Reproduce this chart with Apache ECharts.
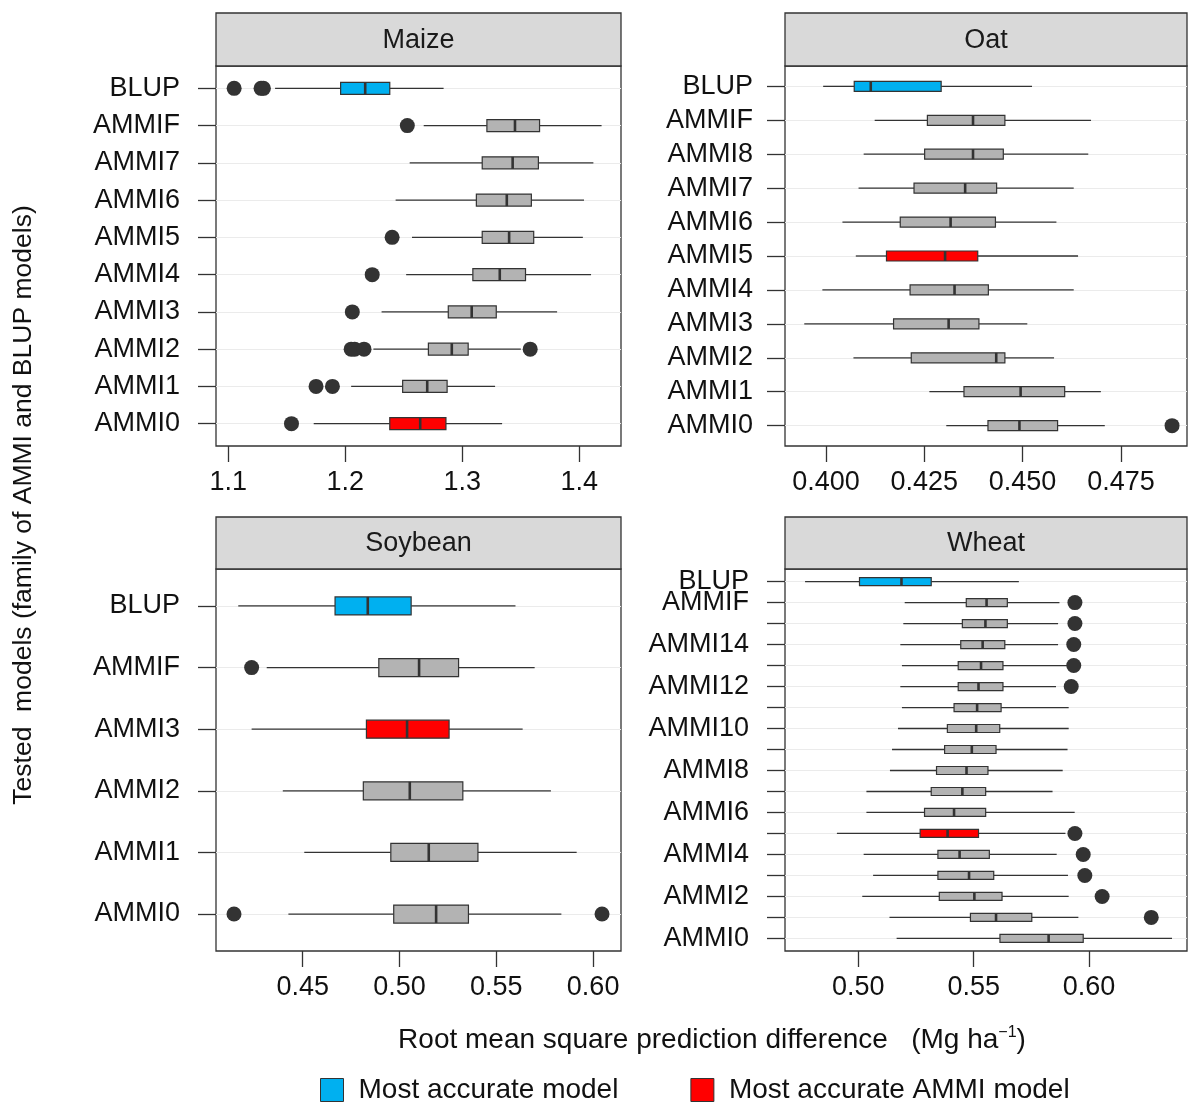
<!DOCTYPE html>
<html>
<head>
<meta charset="utf-8">
<script src="https://cdn.jsdelivr.net/npm/echarts@6/dist/echarts.min.js"></script>
<style>
  html, body { margin: 0; padding: 0; background: #fff; }
  #chart { width: 1190px; height: 1102px; }
</style>
</head>
<body>
<div id="chart"></div>
<script>
// ---------------- DATA ----------------
// Maize
const maizeModels = ['BLUP','AMMIF','AMMI7','AMMI6','AMMI5','AMMI4','AMMI3','AMMI2','AMMI1','AMMI0'];
const maizeTickLabelsY = maizeModels;
const maizeLow  = [1.140, 1.267, 1.255, 1.243, 1.257, 1.252, 1.231, 1.224, 1.205, 1.173];
const maizeQ1   = [1.196, 1.321, 1.317, 1.312, 1.317, 1.309, 1.288, 1.271, 1.249, 1.238];
const maizeMed  = [1.217, 1.345, 1.343, 1.338, 1.340, 1.332, 1.308, 1.291, 1.270, 1.264];
const maizeQ3   = [1.238, 1.366, 1.365, 1.359, 1.361, 1.354, 1.329, 1.305, 1.287, 1.286];
const maizeHigh = [1.284, 1.419, 1.412, 1.404, 1.403, 1.410, 1.381, 1.350, 1.328, 1.334];
const maizeOutliers = [[1.105,1.128,1.130],[1.253],[],[],[1.240],[1.223],[1.206],[1.205,1.208,1.216,1.358],[1.175,1.189],[1.154]];
const maizeRole = ['best','','','','','','','','','ammi'];
const maizeTicks = [1.1, 1.2, 1.3, 1.4];
const maizeTickLabels = ['1.1','1.2','1.3','1.4'];

// Oat
const oatModels = ['BLUP','AMMIF','AMMI8','AMMI7','AMMI6','AMMI5','AMMI4','AMMI3','AMMI2','AMMI1','AMMI0'];
const oatTickLabelsY = oatModels;
const oatLow  = [0.3993, 0.4124, 0.4096, 0.4083, 0.4042, 0.4076, 0.3991, 0.3945, 0.4070, 0.4263, 0.4306];
const oatQ1   = [0.4072, 0.4258, 0.4251, 0.4224, 0.4189, 0.4154, 0.4214, 0.4172, 0.4217, 0.4351, 0.4412];
const oatMed  = [0.4114, 0.4374, 0.4374, 0.4354, 0.4317, 0.4303, 0.4327, 0.4312, 0.4433, 0.4495, 0.4492];
const oatQ3   = [0.4293, 0.4455, 0.4451, 0.4434, 0.4431, 0.4386, 0.4413, 0.4389, 0.4455, 0.4607, 0.4589];
const oatHigh = [0.4524, 0.4674, 0.4667, 0.4630, 0.4586, 0.4641, 0.4630, 0.4512, 0.4580, 0.4699, 0.4709];
const oatOutliers = [[],[],[],[],[],[],[],[],[],[],[0.4880]];
const oatRole = ['best','','','','','ammi','','','','',''];
const oatTicks = [0.400, 0.425, 0.450, 0.475];
const oatTickLabels = ['0.400','0.425','0.450','0.475'];

// Soybean
const soyModels = ['BLUP','AMMIF','AMMI3','AMMI2','AMMI1','AMMI0'];
const soyTickLabelsY = soyModels;
const soyLow  = [0.4167, 0.4314, 0.4236, 0.4397, 0.4508, 0.4426];
const soyQ1   = [0.4667, 0.4893, 0.4829, 0.4813, 0.4955, 0.4970];
const soyMed  = [0.4836, 0.5101, 0.5039, 0.5053, 0.5151, 0.5189];
const soyQ3   = [0.5060, 0.5305, 0.5256, 0.5327, 0.5405, 0.5356];
const soyHigh = [0.5599, 0.5698, 0.5636, 0.5782, 0.5915, 0.5836];
const soyOutliers = [[],[0.4236],[],[],[],[0.4145,0.6046]];
const soyRole = ['best','','ammi','','',''];
const soyTicks = [0.45, 0.50, 0.55, 0.60];
const soyTickLabels = ['0.45','0.50','0.55','0.60'];

// Wheat
const wheatModels = ['BLUP','AMMIF','AMMI15','AMMI14','AMMI13','AMMI12','AMMI11','AMMI10','AMMI9','AMMI8','AMMI7','AMMI6','AMMI5','AMMI4','AMMI3','AMMI2','AMMI1','AMMI0'];
const wheatTickLabelsY = ['BLUP','AMMIF','','AMMI14','','AMMI12','','AMMI10','','AMMI8','','AMMI6','','AMMI4','','AMMI2','','AMMI0'];
const wheatLow  = [0.4769, 0.5201, 0.5195, 0.5182, 0.5189, 0.5182, 0.5189, 0.5172, 0.5146, 0.5137, 0.5035, 0.5035, 0.4907, 0.5023, 0.5064, 0.5017, 0.5135, 0.5166];
const wheatQ1   = [0.5005, 0.5468, 0.5451, 0.5444, 0.5433, 0.5433, 0.5415, 0.5386, 0.5374, 0.5339, 0.5316, 0.5287, 0.5268, 0.5345, 0.5345, 0.5351, 0.5486, 0.5614];
const wheatMed  = [0.5187, 0.5556, 0.5551, 0.5539, 0.5532, 0.5521, 0.5515, 0.5511, 0.5492, 0.5469, 0.5451, 0.5415, 0.5387, 0.5439, 0.5480, 0.5503, 0.5597, 0.5825];
const wheatQ3   = [0.5316, 0.5646, 0.5646, 0.5635, 0.5627, 0.5627, 0.5619, 0.5613, 0.5597, 0.5562, 0.5552, 0.5552, 0.5521, 0.5568, 0.5587, 0.5623, 0.5752, 0.5975];
const wheatHigh = [0.5696, 0.5872, 0.5866, 0.5866, 0.5916, 0.5857, 0.5912, 0.5912, 0.5907, 0.5886, 0.5842, 0.5938, 0.5898, 0.5860, 0.5909, 0.5912, 0.5954, 0.6360];
const wheatOutliers = [[],[0.5939],[0.5939],[0.5934],[0.5934],[0.5923],[],[],[],[],[],[],[0.5939],[0.5975],[0.5982],[0.6057],[0.6270],[]];
const wheatRole = ['best','','','','','','','','','','','','ammi','','','','',''];
const wheatTicks = [0.50, 0.55, 0.60];
const wheatTickLabels = ['0.50','0.55','0.60'];

const legendNames = ['Most accurate model', 'Most accurate AMMI model'];
const xTitle = 'Root mean square prediction difference';
const xUnit = 'Mg ha';
const xUnitExp = '\u22121';
const yTitle = 'Tested  models (family of AMMI and BLUP models)';

// ---------------- STYLE / LAYOUT ----------------
const FONT = '"Liberation Sans", Arial, Helvetica, sans-serif';
const FS = 27;
const TXT = '#111111';
const DARK = '#333333';
const roleColor = { best: '#00b0f0', ammi: '#ff0000', '': '#b3b3b3' };

const panels = [
  { title: 'Maize', models: maizeModels, yLabels: maizeTickLabelsY, low: maizeLow, q1: maizeQ1, med: maizeMed, q3: maizeQ3, high: maizeHigh,
    out: maizeOutliers, role: maizeRole, ticks: maizeTicks, tickLabels: maizeTickLabels,
    left: 216, width: 405, top: 66, bottom: 446, stripTop: 13, boxH: 12, labelMargin: 36, xmin: 1.0895, xmax: 1.4356 },
  { title: 'Oat', models: oatModels, yLabels: oatTickLabelsY, low: oatLow, q1: oatQ1, med: oatMed, q3: oatQ3, high: oatHigh,
    out: oatOutliers, role: oatRole, ticks: oatTicks, tickLabels: oatTickLabels,
    left: 785, width: 402, top: 66, bottom: 446, stripTop: 13, boxH: 10, labelMargin: 32, xmin: 0.3896, xmax: 0.4918 },
  { title: 'Soybean', models: soyModels, yLabels: soyTickLabelsY, low: soyLow, q1: soyQ1, med: soyMed, q3: soyQ3, high: soyHigh,
    out: soyOutliers, role: soyRole, ticks: soyTicks, tickLabels: soyTickLabels,
    left: 216, width: 405, top: 569, bottom: 951, stripTop: 517, boxH: 18, labelMargin: 36, xmin: 0.4052, xmax: 0.6144 },
  { title: 'Wheat', models: wheatModels, yLabels: wheatTickLabelsY, low: wheatLow, q1: wheatQ1, med: wheatMed, q3: wheatQ3, high: wheatHigh,
    out: wheatOutliers, role: wheatRole, ticks: wheatTicks, tickLabels: wheatTickLabels,
    left: 785, width: 402, top: 569, bottom: 951, stripTop: 517, boxH: 8, labelMargin: 36, xmin: 0.4682, xmax: 0.6425 }
];

const grid = [], xAxis = [], yAxis = [], series = [], graphics = [];

panels.forEach((p, i) => {
  const n = p.models.length;
  const h = p.bottom - p.top;
  const unit = h / (n + 0.2);           // ggplot discrete expansion of 0.6 on both sides
  const rowTop = p.top + 0.6 * unit;
  const rowSpan = (n - 1) * unit;
  const fi = 2 * i, di = 2 * i + 1;

  grid.push({ left: p.left, top: p.top, width: p.width, height: h, show: true,
              borderColor: DARK, borderWidth: 1.3, backgroundColor: 'transparent' });
  grid.push({ left: p.left, top: rowTop, width: p.width, height: rowSpan });

  xAxis.push({
    gridIndex: fi, type: 'value', min: p.xmin, max: p.xmax,
    axisLine: { show: false },
    axisTick: { show: true, length: 16, customValues: p.ticks, lineStyle: { color: DARK, width: 1.3 } },
    axisLabel: { show: true, customValues: p.ticks, margin: 23, fontSize: FS, fontFamily: FONT, color: TXT,
      formatter: (v) => {
        let best = 0, bd = Infinity;
        p.ticks.forEach((t, k) => { const d = Math.abs(t - v); if (d < bd) { bd = d; best = k; } });
        return p.tickLabels[best];
      } },
    splitLine: { show: false }
  });
  xAxis.push({ gridIndex: di, type: 'value', min: p.xmin, max: p.xmax, show: false, splitLine: { show: false } });

  yAxis.push({ gridIndex: fi, type: 'value', show: false, splitLine: { show: false } });
  yAxis.push({
    gridIndex: di, type: 'category', data: p.models, inverse: true, boundaryGap: false,
    axisLine: { show: false },
    axisTick: { show: true, length: 18, lineStyle: { color: DARK, width: 1.3 } },
    axisLabel: { interval: 0, margin: p.labelMargin, fontSize: FS, fontFamily: FONT, color: TXT,
      formatter: (v, idx) => p.yLabels[idx] },
    splitLine: { show: true, lineStyle: { color: '#ebebeb', width: 1.2 } }
  });

  series.push({
    type: 'custom', xAxisIndex: di, yAxisIndex: di, z: 3,
    encode: { x: [1, 2, 3, 4, 5], y: 0 },
    data: p.models.map((m, k) => [k, p.low[k], p.q1[k], p.med[k], p.q3[k], p.high[k]]),
    renderItem: (params, api) => {
      const k = api.value(0);
      const c = (dim) => api.coord([api.value(dim), k]);
      const y = c(1)[1];
      const xl = c(1)[0], x1 = c(2)[0], xm = c(3)[0], x3 = c(4)[0], xh = c(5)[0];
      const bh = p.boxH;
      const fill = roleColor[p.role[params.dataIndex]];
      return {
        type: 'group',
        children: [
          { type: 'line', shape: { x1: xl, y1: y, x2: x1, y2: y }, style: { stroke: DARK, lineWidth: 1.3 } },
          { type: 'line', shape: { x1: x3, y1: y, x2: xh, y2: y }, style: { stroke: DARK, lineWidth: 1.3 } },
          { type: 'rect', shape: { x: x1, y: y - bh / 2, width: x3 - x1, height: bh },
            style: { fill: fill, stroke: DARK, lineWidth: 1.2 } },
          { type: 'line', shape: { x1: xm, y1: y - bh / 2, x2: xm, y2: y + bh / 2 }, style: { stroke: DARK, lineWidth: 2.6 } }
        ]
      };
    }
  });

  const outData = [];
  p.out.forEach((arr, k) => arr.forEach(v => outData.push([v, k])));
  series.push({
    type: 'scatter', xAxisIndex: di, yAxisIndex: di, z: 4,
    symbol: 'circle', symbolSize: 15, itemStyle: { color: DARK, opacity: 1 },
    data: outData
  });

  graphics.push({
    type: 'rect', shape: { x: p.left, y: p.stripTop, width: p.width, height: p.top - p.stripTop },
    style: { fill: '#d9d9d9', stroke: DARK, lineWidth: 1.3 }, z: 1
  });
  graphics.push({
    type: 'text', x: p.left + p.width / 2, y: (p.stripTop + p.top) / 2 + 1,
    style: { text: p.title, fontSize: FS, fontFamily: FONT, fill: '#1a1a1a',
             align: 'center', verticalAlign: 'middle', textAlign: 'center', textVerticalAlign: 'middle' }, z: 2
  });
});

series.push({ name: legendNames[0], type: 'scatter', xAxisIndex: 1, yAxisIndex: 1, data: [],
              itemStyle: { color: roleColor.best, borderColor: DARK, borderWidth: 1, opacity: 1 } });
series.push({ name: legendNames[1], type: 'scatter', xAxisIndex: 1, yAxisIndex: 1, data: [],
              itemStyle: { color: roleColor.ammi, borderColor: DARK, borderWidth: 1, opacity: 1 } });

graphics.push({
  type: 'text', x: 712, y: 1040,
  style: {
    text: '{a|' + xTitle + '   (' + xUnit + '}{s|' + xUnitExp + '}{a|)}',
    rich: {
      a: { fontSize: 28, fontFamily: FONT, fill: TXT, color: TXT, lineHeight: 30 },
      s: { fontSize: 16, fontFamily: FONT, fill: TXT, color: TXT, verticalAlign: 'top', lineHeight: 16 }
    },
    align: 'center', verticalAlign: 'middle', textAlign: 'center', textVerticalAlign: 'middle'
  }
});
graphics.push({
  type: 'text', x: 24, y: 505, rotation: Math.PI / 2,
  style: { text: yTitle, fontSize: 26.5, fontFamily: FONT, fill: TXT,
           align: 'center', verticalAlign: 'middle', textAlign: 'center', textVerticalAlign: 'middle' }
});

const chart = echarts.init(document.getElementById('chart'), null, { renderer: 'canvas' });
chart.setOption({
  backgroundColor: '#ffffff',
  animation: false,
  textStyle: { fontFamily: FONT },
  grid: grid,
  xAxis: xAxis,
  yAxis: yAxis,
  legend: {
    data: legendNames, left: 315, top: 1071, itemWidth: 23, itemHeight: 23, itemGap: 72,
    icon: 'rect', selectedMode: false,
    itemStyle: { borderColor: DARK, borderWidth: 1, opacity: 1 },
    textStyle: { fontSize: 28, fontFamily: FONT, color: TXT, padding: [0, 0, 0, 10] }
  },
  graphic: { elements: graphics },
  series: series
});
</script>
</body>
</html>
